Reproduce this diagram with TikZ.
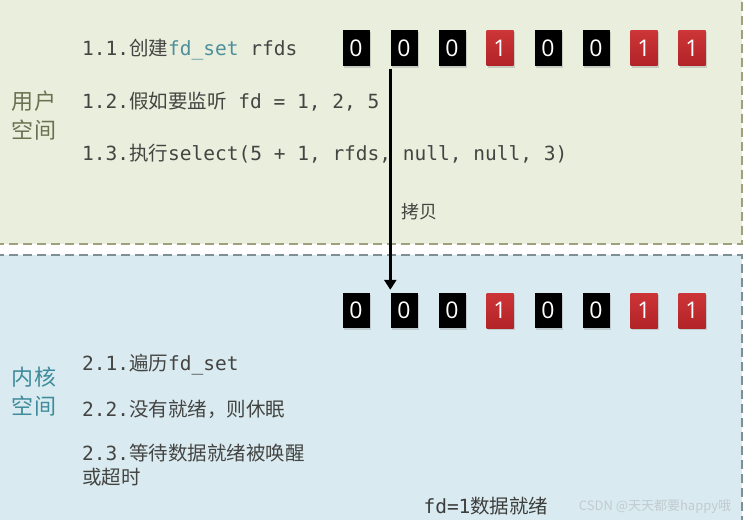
\documentclass[tikz,border=0pt]{standalone}
\usepackage{fontspec}
\setmainfont{DejaVu Sans}
\setmonofont{DejaVu Sans Mono}
\newfontfamily\cjk{Noto Sans CJK SC}
\newfontfamily\digitfont{Open Sans}
\usetikzlibrary{arrows.meta,shadows}

\definecolor{topbg}{HTML}{EAEEDC}
\definecolor{botbg}{HTML}{D9EBF1}
\definecolor{topdash}{HTML}{9EA07E}
\definecolor{botdash}{HTML}{7E8F97}
\definecolor{txt}{HTML}{444442}
\definecolor{userlbl}{HTML}{6B7150}
\definecolor{kernlbl}{HTML}{3E8B9B}
\definecolor{fdset}{HTML}{4E8F9B}
\definecolor{redtop}{HTML}{CD3538}
\definecolor{redbot}{HTML}{B22327}
\definecolor{wmark}{HTML}{C2CBD0}

\begin{document}
\begin{tikzpicture}[x=1pt,y=-1pt,
  bit/.style={minimum width=27pt, minimum height=35pt, inner sep=0pt,
    text=white, font=\digitfont\fontsize{23}{23}\selectfont,
    drop shadow={shadow xshift=1pt, shadow yshift=-2pt, opacity=0.3}},
  bit0/.style={bit, fill=black},
  bit1/.style={bit, top color=redtop, bottom color=redbot},
  stepline/.style={anchor=west, inner sep=0pt, text=txt, align=left,
    font=\ttfamily\fontsize{19.5}{24}\selectfont},
  spacelbl/.style={inner sep=0pt, align=center,
    font=\cjk\fontsize{22}{29}\selectfont},
  copyarrow/.style={line width=3.5pt, -{Triangle[width=12pt,length=10pt]}},
]
\useasboundingbox (0,0) rectangle (743,519);

% regions
\fill[topbg] (-5,-5) rectangle (742,244);
\fill[white] (-5,244) rectangle (742,255);
\fill[botbg] (-5,255) rectangle (742,525);
\draw[topdash, line width=2pt, dash pattern=on 9pt off 5pt] (-5,244) -- (742,244) -- (742,-5);
\draw[botdash, line width=2pt, dash pattern=on 9pt off 5pt] (-5,255) -- (742,255) -- (742,525);

% bit boxes
\foreach \i/\v in {1/0,2/0,3/0,4/1,5/0,6/0,7/1,8/1} {
  \pgfmathsetmacro\xx{356+48*(\i-1)}
  \node[bit\v] (u\i) at (\xx,48) {\v};
  \node[bit\v] (k\i) at (\xx,310.5) {\v};
}

% labels of spaces
\node[spacelbl, text=userlbl] (ulabel) at (34,116) {用户\\空间};
\node[spacelbl, text=kernlbl] (klabel) at (34,392) {内核\\空间};

% user steps
\node[stepline] (s11) at (82,50) {1.1.{\cjk 创建}{\color{fdset}fd\_set} rfds};
\node[stepline] (s12) at (82,102) {1.2.{\cjk 假如要监听} fd = 1, 2, 5};
\node[stepline] (s13) at (82,154) {1.3.{\cjk 执行}select(5 + 1, rfds, null, null, 3)};

% kernel steps
\node[stepline] (s21) at (82,365) {2.1.{\cjk 遍历}fd\_set};
\node[stepline] (s22) at (82,409) {2.2.{\cjk 没有就绪，则休眠}};
\node[stepline] (s23) at (82,465) {2.3.{\cjk 等待数据就绪被唤醒}\\{\cjk 或超时}};

% copy arrow
\coordinate (cstart) at ([yshift=-3pt]u2.south west);
\draw[copyarrow] (cstart) -- ([yshift=3pt]k2.north west);
\node[inner sep=0pt, text=txt, font=\cjk\fontsize{18}{18}\selectfont] (copylbl) at (419,212) {拷贝};

% ready note
\node[inner sep=0pt, text=txt!90!black, font=\ttfamily\fontsize{19.5}{19.5}\selectfont] (ready) at (486,506) {fd=1{\cjk 数据就绪}};
\node[inner sep=0pt, text=wmark, font=\cjk\fontsize{13}{13}\selectfont] (wm) at (655,507) {CSDN @天天都要happy哦};
\end{tikzpicture}
\end{document}
